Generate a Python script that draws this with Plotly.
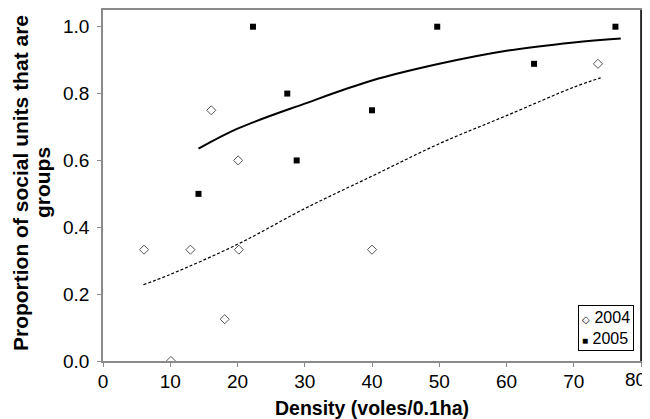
import plotly.graph_objects as go

# observed points
x_2004 = [6.1, 10.1, 13.0, 16.1, 18.1, 20.1, 20.2, 40.0, 73.6]
y_2004 = [0.333, 0.0, 0.333, 0.75, 0.125, 0.6, 0.333, 0.333, 0.889]

x_2005 = [14.2, 22.3, 27.4, 28.8, 40.0, 49.7, 64.1, 76.2]
y_2005 = [0.5, 1.0, 0.8, 0.6, 0.75, 1.0, 0.889, 1.0]

# fitted curves
fit04_x = [6, 10, 20, 30, 40, 50, 60, 70, 74]
fit04_y = [0.228, 0.259, 0.349, 0.456, 0.553, 0.65, 0.734, 0.819, 0.847]

fit05_x = [14.2, 20, 30, 40, 50, 60, 70, 77]
fit05_y = [0.635, 0.695, 0.77, 0.839, 0.889, 0.928, 0.953, 0.965]

x_ticks = list(range(0, 81, 10))
legend_labels = ["2004", "2005"]

FONT = "Liberation Sans, Arial, sans-serif"
AXIS_GRAY = "#8a8a8a"

fig = go.Figure()

fig.add_trace(go.Scatter(x=fit04_x, y=fit04_y, mode="lines", line_shape="spline",
                         line=dict(color="black", width=1.2, dash="3px,2px"),
                         showlegend=False, hoverinfo="skip"))
fig.add_trace(go.Scatter(x=fit05_x, y=fit05_y, mode="lines", line_shape="spline",
                         line=dict(color="black", width=2),
                         showlegend=False, hoverinfo="skip"))

fig.add_trace(go.Scatter(x=x_2004, y=y_2004, mode="markers", name="2004",
                         marker=dict(symbol="diamond-open", size=7, color="#555",
                                     line=dict(width=1))))
fig.add_trace(go.Scatter(x=x_2005, y=y_2005, mode="markers", name="2005",
                         marker=dict(symbol="square", size=6, color="black")))

# the page body has an 8px margin, so the figure sits 8px in from the window corner
W, H = 650, 411
ML, MR, MT, MB = 95, 17, 2, 58
PW = W - ML - MR   # plot width in px
PH = H - MT - MB   # plot height in px

# hand-made compact legend (box bottom right)
legend_text = ('<span style="font-size:10px">\u25c7</span> ' + legend_labels[0] +
               '<br><span style="font-size:10px">\u25a0</span> ' + legend_labels[1])
annotations = [
    dict(text=legend_text, xref="paper", yref="paper", x=0.987, y=0.028,
         xanchor="right", yanchor="bottom", showarrow=False, align="left",
         font=dict(size=16, family=FONT), bordercolor="black", borderwidth=1,
         borderpad=3, bgcolor="white"),
    # last x tick label, nudged left so it stays inside the window
    dict(text=str(x_ticks[-1]), xref="x", yref="paper", x=x_ticks[-1], y=0,
         xanchor="right", yanchor="top", xshift=7, yshift=-6, showarrow=False,
         font=dict(size=19, family=FONT)),
    dict(text="<b>Density (voles/0.1ha)</b>", xref="paper", yref="paper",
         x=0.5, y=-47 / PH, xanchor="center", yanchor="middle", showarrow=False,
         font=dict(size=19.5, family=FONT)),
    dict(text="<b>Proportion of social units that are</b>", xref="paper", yref="paper",
         x=-83 / PW, y=0.507, xanchor="center", yanchor="middle",
         textangle=-90, showarrow=False, font=dict(size=21, family=FONT)),
    dict(text="<b>groups</b>", xref="paper", yref="paper",
         x=-61 / PW, y=0.507, xanchor="center", yanchor="middle",
         textangle=-90, showarrow=False, font=dict(size=21, family=FONT)),
]

fig.update_layout(
    width=W, height=H,
    margin=dict(l=ML, r=MR, t=MT, b=MB),
    plot_bgcolor="white", paper_bgcolor="white",
    font=dict(family=FONT, color="black", size=19),
    showlegend=False,
    annotations=annotations,
    shapes=[dict(type="line", xref="paper", yref="paper", x0=1, x1=1, y0=0, y1=1,
                 line=dict(color="black", width=1.5))],
)

fig.update_xaxes(range=[0, 80], tickvals=x_ticks,
                 ticktext=[str(t) for t in x_ticks[:-1]] + [""],
                 showline=True, linecolor=AXIS_GRAY, linewidth=1.5, mirror=True,
                 ticks="outside", ticklen=4, tickcolor=AXIS_GRAY,
                 ticklabelstandoff=-2,
                 showgrid=False, zeroline=False, automargin=False)
fig.update_yaxes(range=[0, 1.05], tickvals=[0, 0.2, 0.4, 0.6, 0.8, 1.0],
                 tickformat=".1f",
                 showline=True, linecolor=AXIS_GRAY, linewidth=1.5, mirror=True,
                 ticks="outside", ticklen=4, tickcolor=AXIS_GRAY,
                 ticklabelstandoff=4,
                 showgrid=False, zeroline=False, automargin=False)

fig.write_html("out.html")
